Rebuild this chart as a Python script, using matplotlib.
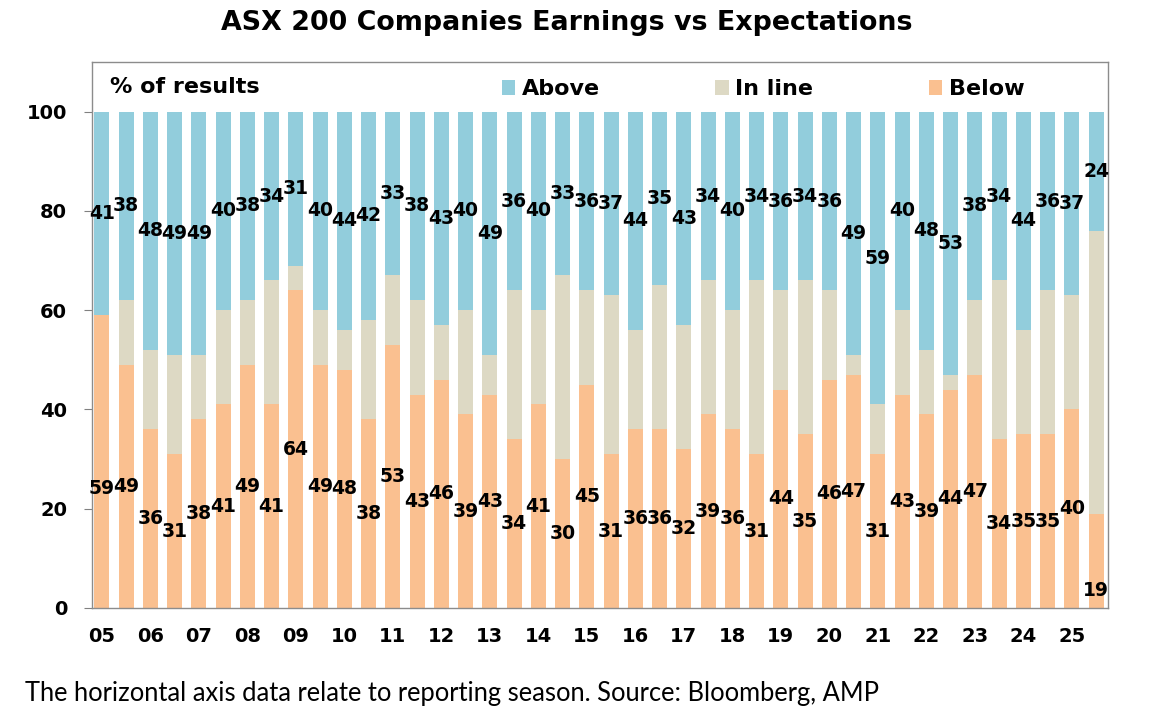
import numpy as np
import matplotlib.pyplot as plt

# reporting seasons Feb 05 .. Feb 26 (two per year)
above = [41, 38, 48, 49, 49, 40, 38, 34, 31, 40, 44, 42, 33, 38, 43, 40, 49, 36, 40, 33, 36,
         37, 44, 35, 43, 34, 40, 34, 36, 34, 36, 49, 59, 40, 48, 53, 38, 34, 44, 36, 37, 24]
below = [59, 49, 36, 31, 38, 41, 49, 41, 64, 49, 48, 38, 53, 43, 46, 39, 43, 34, 41, 30, 45,
         31, 36, 36, 32, 39, 36, 31, 44, 35, 46, 47, 31, 43, 39, 44, 47, 34, 35, 35, 40, 19]
inline = [100 - a - b for a, b in zip(above, below)]
year_labels = ['%02d' % y for y in range(5, 26)]

c_above = '#92CDDC'
c_inline = '#DDD9C4'
c_below = '#FAC090'

plt.rcParams['font.family'] = ['DejaVu Sans']

fig = plt.figure(figsize=(11.52, 7.22), dpi=100)
ax = fig.add_axes([0.080, 0.158, 0.882, 0.756])

x = np.arange(len(above))
w = 0.62
ax.bar(x, below, w, color=c_below, label='Below')
ax.bar(x, inline, w, bottom=below, color=c_inline, label='In line')
bot_above = np.array(below) + np.array(inline)
ax.bar(x, above, w, bottom=bot_above, color=c_above, label='Above')

# data labels in the middle of segments (a couple nudged like the original)
below_shift = {0: -5.5, 41: -6}
lab = dict(ha='center', va='center', fontsize=13.5, fontweight='bold', color='black')
for i in x:
    ax.text(i, below[i] / 2 + below_shift.get(i, 0), str(below[i]), **lab)
    ax.text(i, bot_above[i] + above[i] / 2, str(above[i]), **lab)

ax.set_xlim(-0.4, len(above) - 0.5)
ax.set_ylim(0, 110)
ax.set_yticks(range(0, 101, 20))
ax.set_xticks(x[::2])
ax.set_xticklabels(year_labels)
for t in ax.get_xticklabels() + ax.get_yticklabels():
    t.set_fontweight('bold')
    t.set_fontsize(14)
ax.tick_params(axis='y', direction='out', length=6, color='#808080', pad=12)
ax.tick_params(axis='x', length=0, pad=14)
for s in ax.spines.values():
    s.set_color('#8c8c8c')
    s.set_linewidth(1)

ax.text(0.018, 0.955, '% of results', transform=ax.transAxes, ha='left', va='center',
        fontsize=16, fontweight='bold')

handles, labels = ax.get_legend_handles_labels()
leg = ax.legend(handles[::-1], labels[::-1], loc='center left', bbox_to_anchor=(0.403, 0.95),
                ncol=3, frameon=False, prop={'weight': 'bold', 'size': 16},
                borderpad=0, borderaxespad=0,
                handlelength=0.6, handleheight=0.6, handletextpad=0.3, columnspacing=5.2)

fig.text(0.492, 0.968, 'ASX 200 Companies Earnings vs Expectations', ha='center', va='center',
         fontsize=19.4, fontweight='bold')
fig.text(0.022, 0.04, 'The horizontal axis data relate to reporting season. Source: Bloomberg, AMP',
         ha='left', va='center', fontsize=18.4, family=['Lato', 'DejaVu Sans'])

fig.savefig('out.png', dpi=100)
